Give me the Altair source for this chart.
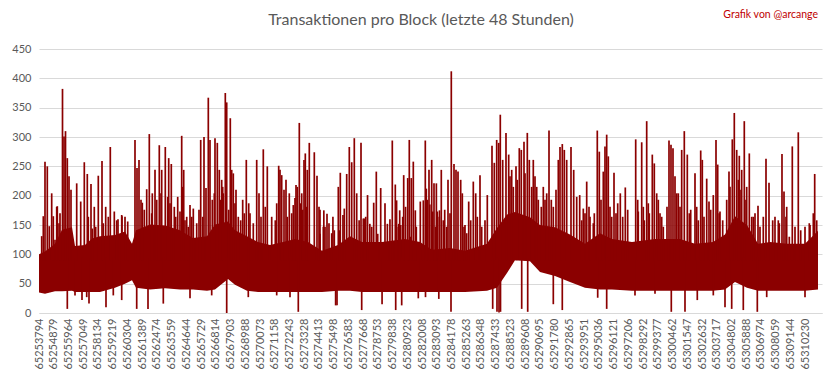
import altair as alt
import pandas as pd

START_BLOCK = 65253794
END_BLOCK = 65311470

x_tick_labels = [65253794, 65254879, 65255964, 65257049, 65258134, 65259219, 65260304,
                 65261389, 65262474, 65263559, 65264644, 65265729, 65266814, 65267903,
                 65268988, 65270073, 65271158, 65272243, 65273328, 65274413, 65275498,
                 65276583, 65277668, 65278753, 65279838, 65280923, 65282008, 65283093,
                 65284178, 65285263, 65286348, 65287433, 65288523, 65289608, 65290695,
                 65291780, 65292865, 65293951, 65295036, 65296121, 65297206, 65298292,
                 65299377, 65300462, 65301547, 65302632, 65303717, 65304802, 65305888,
                 65306974, 65308059, 65309144, 65310230]
y_tick_values = [0, 50, 100, 150, 200, 250, 300, 350, 400, 450]

# dense band of transactions per block (block offset from START_BLOCK)
core_offsets = [0, 442, 1179, 1694, 2431, 2652, 3388, 3904, 4493, 5598, 6335, 6850, 7145,
                8176, 9281, 10386, 11344, 12375, 12964, 13922, 14437, 15321, 16132, 17015,
                17973, 18857, 19815, 20846, 22024, 22908, 23792, 25265, 26960, 28064, 28948,
                30274, 31379, 33000, 33736, 34473, 35062, 36167, 36904, 38009, 39113, 40218,
                41323, 42207, 43680, 45375, 47216, 48321, 49647, 50531, 51267, 52151, 52962,
                53845, 55098, 56424, 57381]
core_top = [100, 105, 118, 142, 146, 114, 116, 127, 131, 133, 139, 118, 141,
            151, 149, 141, 128, 131, 151, 156, 141, 131, 121, 116,
            121, 126, 121, 106, 116, 131, 121, 121, 126, 121, 108,
            111, 106, 118, 145, 168, 172, 163, 150, 146, 134, 118,
            136, 126, 121, 126, 126, 118, 121, 134, 165, 150, 118,
            121, 118, 118, 140]
core_bottom = [35, 33, 37, 37, 38, 36, 36, 36, 36, 43, 50, 56, 43,
               40, 42, 40, 40, 38, 40, 58, 48, 38, 36, 36,
               36, 36, 36, 36, 38, 38, 36, 36, 36, 36, 36,
               36, 36, 38, 43, 68, 90, 88, 70, 63, 53, 43,
               40, 40, 38, 38, 38, 38, 38, 40, 53, 43, 38,
               38, 38, 38, 40]

# tall spikes above the band
spike_offsets = [442, 611, 935, 1053, 1348, 1547, 1731, 1842, 1952, 2085, 2210, 2357, 2777,
                 3072, 3337, 3558, 3830, 4073, 4368, 4641, 4913, 5252, 5547, 5819, 6114,
                 7071, 7219, 7366, 7609, 7933, 8125, 8346, 8545, 8861, 9038, 9303, 9554,
                 9745, 9966, 10217, 10511, 10585, 10659, 10880, 11123, 11366, 11911, 12154,
                 12301, 12471, 12596, 12765, 12964, 13134, 13281, 13458, 13575, 13723, 13826,
                 13973, 14091, 14194, 14312, 14511, 15004, 15270, 15447, 16036, 16205, 16522,
                 16669, 16817, 17406, 17656, 17752, 17877, 18047, 18194, 18437, 18732, 18931,
                 19027, 19174, 19351, 19520, 19616, 19763, 19910, 20279, 20477, 20625, 21067,
                 21214, 21361, 22047, 22194, 22488, 22665, 22857, 23033, 23225, 23402, 23719,
                 23888, 24065, 24507, 24654, 24846, 25170, 25486, 26024, 26245, 26466, 26643,
                 26864, 27159, 27276, 27424, 27571, 27792, 28087, 28455, 28602, 28727, 28926,
                 29096, 29339, 29633, 29884, 30127, 30370, 30569, 30716, 30864, 31062, 31181,
                 31379, 31652, 31991, 32167, 32484, 33022, 33368, 33538, 33714, 33862, 33979,
                 34156, 34399, 34598, 34819, 35136, 35379, 35526, 35725, 35969, 36116, 36410,
                 36661, 36999, 37272, 37567, 37736, 38082, 38252, 38377, 38546, 38694, 38870,
                 39187, 39386, 39607, 39828, 40093, 40344, 40513, 40904, 41124, 41272, 41566,
                 41691, 41816, 41935, 42185, 42355, 42627, 42819, 43187, 43953, 44144, 44395,
                 44586, 44763, 44955, 45176, 45323, 45618, 45868, 46406, 46553, 46700, 46848,
                 47091, 47341, 47533, 47754, 48004, 48321, 48564, 48741, 48859, 49183, 49352,
                 49669, 49868, 49993, 50162, 50361, 50825, 51069, 51216, 51393, 51584, 51761,
                 51952, 52129, 52321, 52498, 52741, 52962, 53551, 53772, 54213, 54531, 54729,
                 54877, 55076, 55488, 55930, 56792, 57138, 57286]
spike_values = [258, 250, 204, 165, 182, 170, 382, 301, 310, 264, 233, 210, 221,
                190, 257, 237, 220, 181, 234, 259, 181, 283, 173, 160, 165,
                295, 247, 261, 188, 211, 305, 204, 244, 286, 244, 283, 264,
                254, 181, 198, 302, 215, 244, 164, 184, 178, 295, 300,
                213, 367, 295, 193, 298, 290, 244, 227, 204, 375, 359,
                176, 332, 244, 238, 210, 193, 261, 187, 261, 204, 279,
                181, 250, 158, 251, 244, 235, 210, 227, 204, 184, 218,
                215, 324, 204, 261, 272, 244, 290, 274, 234, 181, 147,
                169, 153, 215, 239, 178, 237, 283, 257, 298, 204, 290,
                161, 164, 147, 188, 241, 213, 187, 294, 219, 147, 150,
                235, 230, 295, 230, 258, 147, 190, 294, 193, 244, 261,
                221, 173, 244, 176, 227, 412, 254, 244, 241, 227, 204,
                150, 190, 224, 204, 235, 201, 285, 256, 295, 290, 338,
                261, 307, 270, 244, 250, 281, 278, 292, 307, 261, 261,
                215, 181, 193, 311, 193, 210, 261, 283, 288, 278, 261,
                283, 244, 198, 201, 178, 224, 181, 170, 311, 275, 241,
                284, 304, 267, 164, 239, 187, 204, 214, 296, 173, 291,
                158, 327, 170, 270, 255, 193, 164, 294, 287, 281, 233,
                204, 278, 310, 270, 176, 238, 158, 277, 261, 229, 190,
                201, 295, 253, 173, 158, 241, 296, 341, 278, 268, 244,
                327, 215, 272, 164, 170, 183, 263, 222, 164, 153, 271,
                207, 181, 284, 308, 150, 237, 158]

# medium spikes just above the band
medium_offsets = [199, 317, 759, 1179, 1304, 1473, 3631, 3926, 4177, 4736, 5105, 5723,
                  6092, 6335, 6534, 7513, 7756, 8301, 8670, 8987, 9480, 9649, 10069, 10386,
                  10754, 10997, 11248, 11616, 11786, 12058, 12913, 13384, 13531, 14437,
                  14680, 14857, 15123, 15542, 15785, 16353, 17141, 17509, 18290, 18614,
                  18857, 19277, 19424, 19719, 20698, 20942, 21560, 21752,
                  20700, 20980, 21650, 22120, 22390, 23580, 23950, 24200, 24370, 24950,
                  25660, 25850, 26340, 26500, 26570, 26790, 27000, 27350, 27720, 28310,
                  28530, 28790, 29270, 29500,
                  29000, 29221, 29486, 29781, 30031, 30274, 31306, 31504, 31799, 32285,
                  32609, 32852, 34694, 34937, 35232, 35799, 36292, 36535, 36778, 37147,
                  37397, 37884, 39975, 40218, 40587, 40830, 41397, 42060, 42502, 42995,
                  43363, 44100, 44513, 44881, 45500, 45743, 45986, 46258, 46973, 47216,
                  47901, 48446, 48984, 49477, 50100, 50656, 50899, 51510, 51709, 52078,
                  52615, 53109, 53352, 54044, 54457, 55024, 55267, 55687, 56107, 56424,
                  56740, 57036]
medium_values = [131, 165, 148, 125, 181, 153, 164, 144, 147, 153, 164, 158,
                 167, 164, 156, 193, 176, 170, 193, 204, 198, 187, 164, 173,
                 158, 147, 164, 153, 176, 164, 204, 193, 215, 187,
                 164, 158, 170, 170, 153, 164, 164, 187, 164, 170,
                 196, 187, 176, 181, 176, 147, 136, 141,
                 135, 175, 164, 141, 167, 158, 161, 201, 152, 135,
                 152, 160, 192, 152, 175, 164, 181, 130, 175, 192,
                 212, 185, 221, 175,
                 173, 147, 164, 158, 147, 170, 147, 136, 158, 164,
                 147, 158, 233, 215, 227, 238, 215, 233, 193, 215,
                 204, 181, 158, 170, 164, 153, 193, 181, 170, 164,
                 176, 193, 181, 187, 204, 170, 147, 181, 204, 181,
                 170, 181, 164, 176, 170, 193, 215, 227, 210, 193,
                 164, 147, 164, 158, 158, 164, 130, 147, 141, 147,
                 153, 170]

# drops below the band
dip_offsets = [2085, 3167, 3683, 4935, 7197, 8029, 9156, 13826, 19100, 21951, 23770,
               26275, 26716, 27939, 30348, 33419, 33736, 33884, 33994, 35556, 35998,
               37884, 38546, 41154, 41816, 46575, 47584, 48490, 50531, 51024, 51879, 52911,
               21850, 25270, 28470, 29450,
               2652, 3514, 5473, 6092, 11123, 12721, 15417, 17509, 18489, 43901, 45375,
               49669, 53603, 56424]
dip_values = [7, 22, 16, 10, 7, 7, 16, 0, 2, 13, 5,
              5, 13, 25, 2, 7, 2, 1, 2, 7, 2,
              15, 5, 26, 7, 2, 2, 22, 10, 7, 5, 2,
              13, 15, 27, 24,
              30, 27, 30, 22, 25, 30, 27, 30, 27, 30, 33,
              30, 27, 27]

core_df = pd.DataFrame({"block": [START_BLOCK + o for o in core_offsets],
                        "top": core_top, "bottom": core_bottom})
all_spike_offsets = spike_offsets + medium_offsets
all_spike_values = spike_values + medium_values
spike_df = pd.DataFrame({"block": [START_BLOCK + o for o in all_spike_offsets],
                         "value": all_spike_values,
                         "base": [90] * len(all_spike_values)})
dip_df = pd.DataFrame({"block": [START_BLOCK + o for o in dip_offsets],
                       "value": dip_values, "base": [95] * len(dip_values)})

RED = "#8B0000"
FONT = "Lato"

x_scale = alt.Scale(domain=[START_BLOCK, END_BLOCK], nice=False, zero=False)
y_scale = alt.Scale(domain=[0, 450], nice=False)

x_axis = alt.Axis(values=x_tick_labels, format="d", labelAngle=-90, title=None,
                  ticks=False, grid=False, domainColor="#D9D9D9", labelColor="#595959",
                  labelFontSize=11, labelFont=FONT, labelPadding=5, labelOverlap=False,
                  labelFlush=False)
y_axis = alt.Axis(values=y_tick_values, title=None, ticks=False, domain=False,
                  gridColor="#D9D9D9", labelColor="#595959", labelFontSize=11,
                  labelFont=FONT, labelPadding=8, labelOverlap=False)

core = alt.Chart(core_df).mark_area(color=RED, opacity=1).encode(
    x=alt.X("block:Q", scale=x_scale, axis=x_axis),
    y=alt.Y("top:Q", scale=y_scale, axis=y_axis),
    y2="bottom:Q",
)

spikes = alt.Chart(spike_df).mark_rule(color=RED, strokeWidth=1.7).encode(
    x=alt.X("block:Q", scale=x_scale, axis=x_axis),
    y=alt.Y("value:Q", scale=y_scale, axis=y_axis),
    y2="base:Q",
)

dips = alt.Chart(dip_df).mark_rule(color=RED, strokeWidth=1.7).encode(
    x=alt.X("block:Q", scale=x_scale, axis=x_axis),
    y=alt.Y("value:Q", scale=y_scale, axis=y_axis),
    y2="base:Q",
)

title = alt.Chart(pd.DataFrame({"t": ["Transaktionen pro Block (letzte 48 Stunden)"]})).mark_text(
    align="center", baseline="middle", color="#595959", fontSize=16, font=FONT
).encode(x=alt.value(382), y=alt.value(-29), text="t:N")

credit = alt.Chart(pd.DataFrame({"t": ["Grafik von @arcange"]})).mark_text(
    align="right", baseline="middle", color="#C00000", fontSize=10.5, font=FONT
).encode(x=alt.value(779), y=alt.value(-34), text="t:N")

chart = alt.layer(core, spikes, dips, title, credit).properties(
    width=783, height=264,
    autosize=alt.AutoSizeParams(type="none"),
    padding={"left": 31, "top": 41, "right": 3, "bottom": 57},
).configure_view(stroke=None)

chart.save("out.html", embed_options={"renderer": "svg", "actions": False})
